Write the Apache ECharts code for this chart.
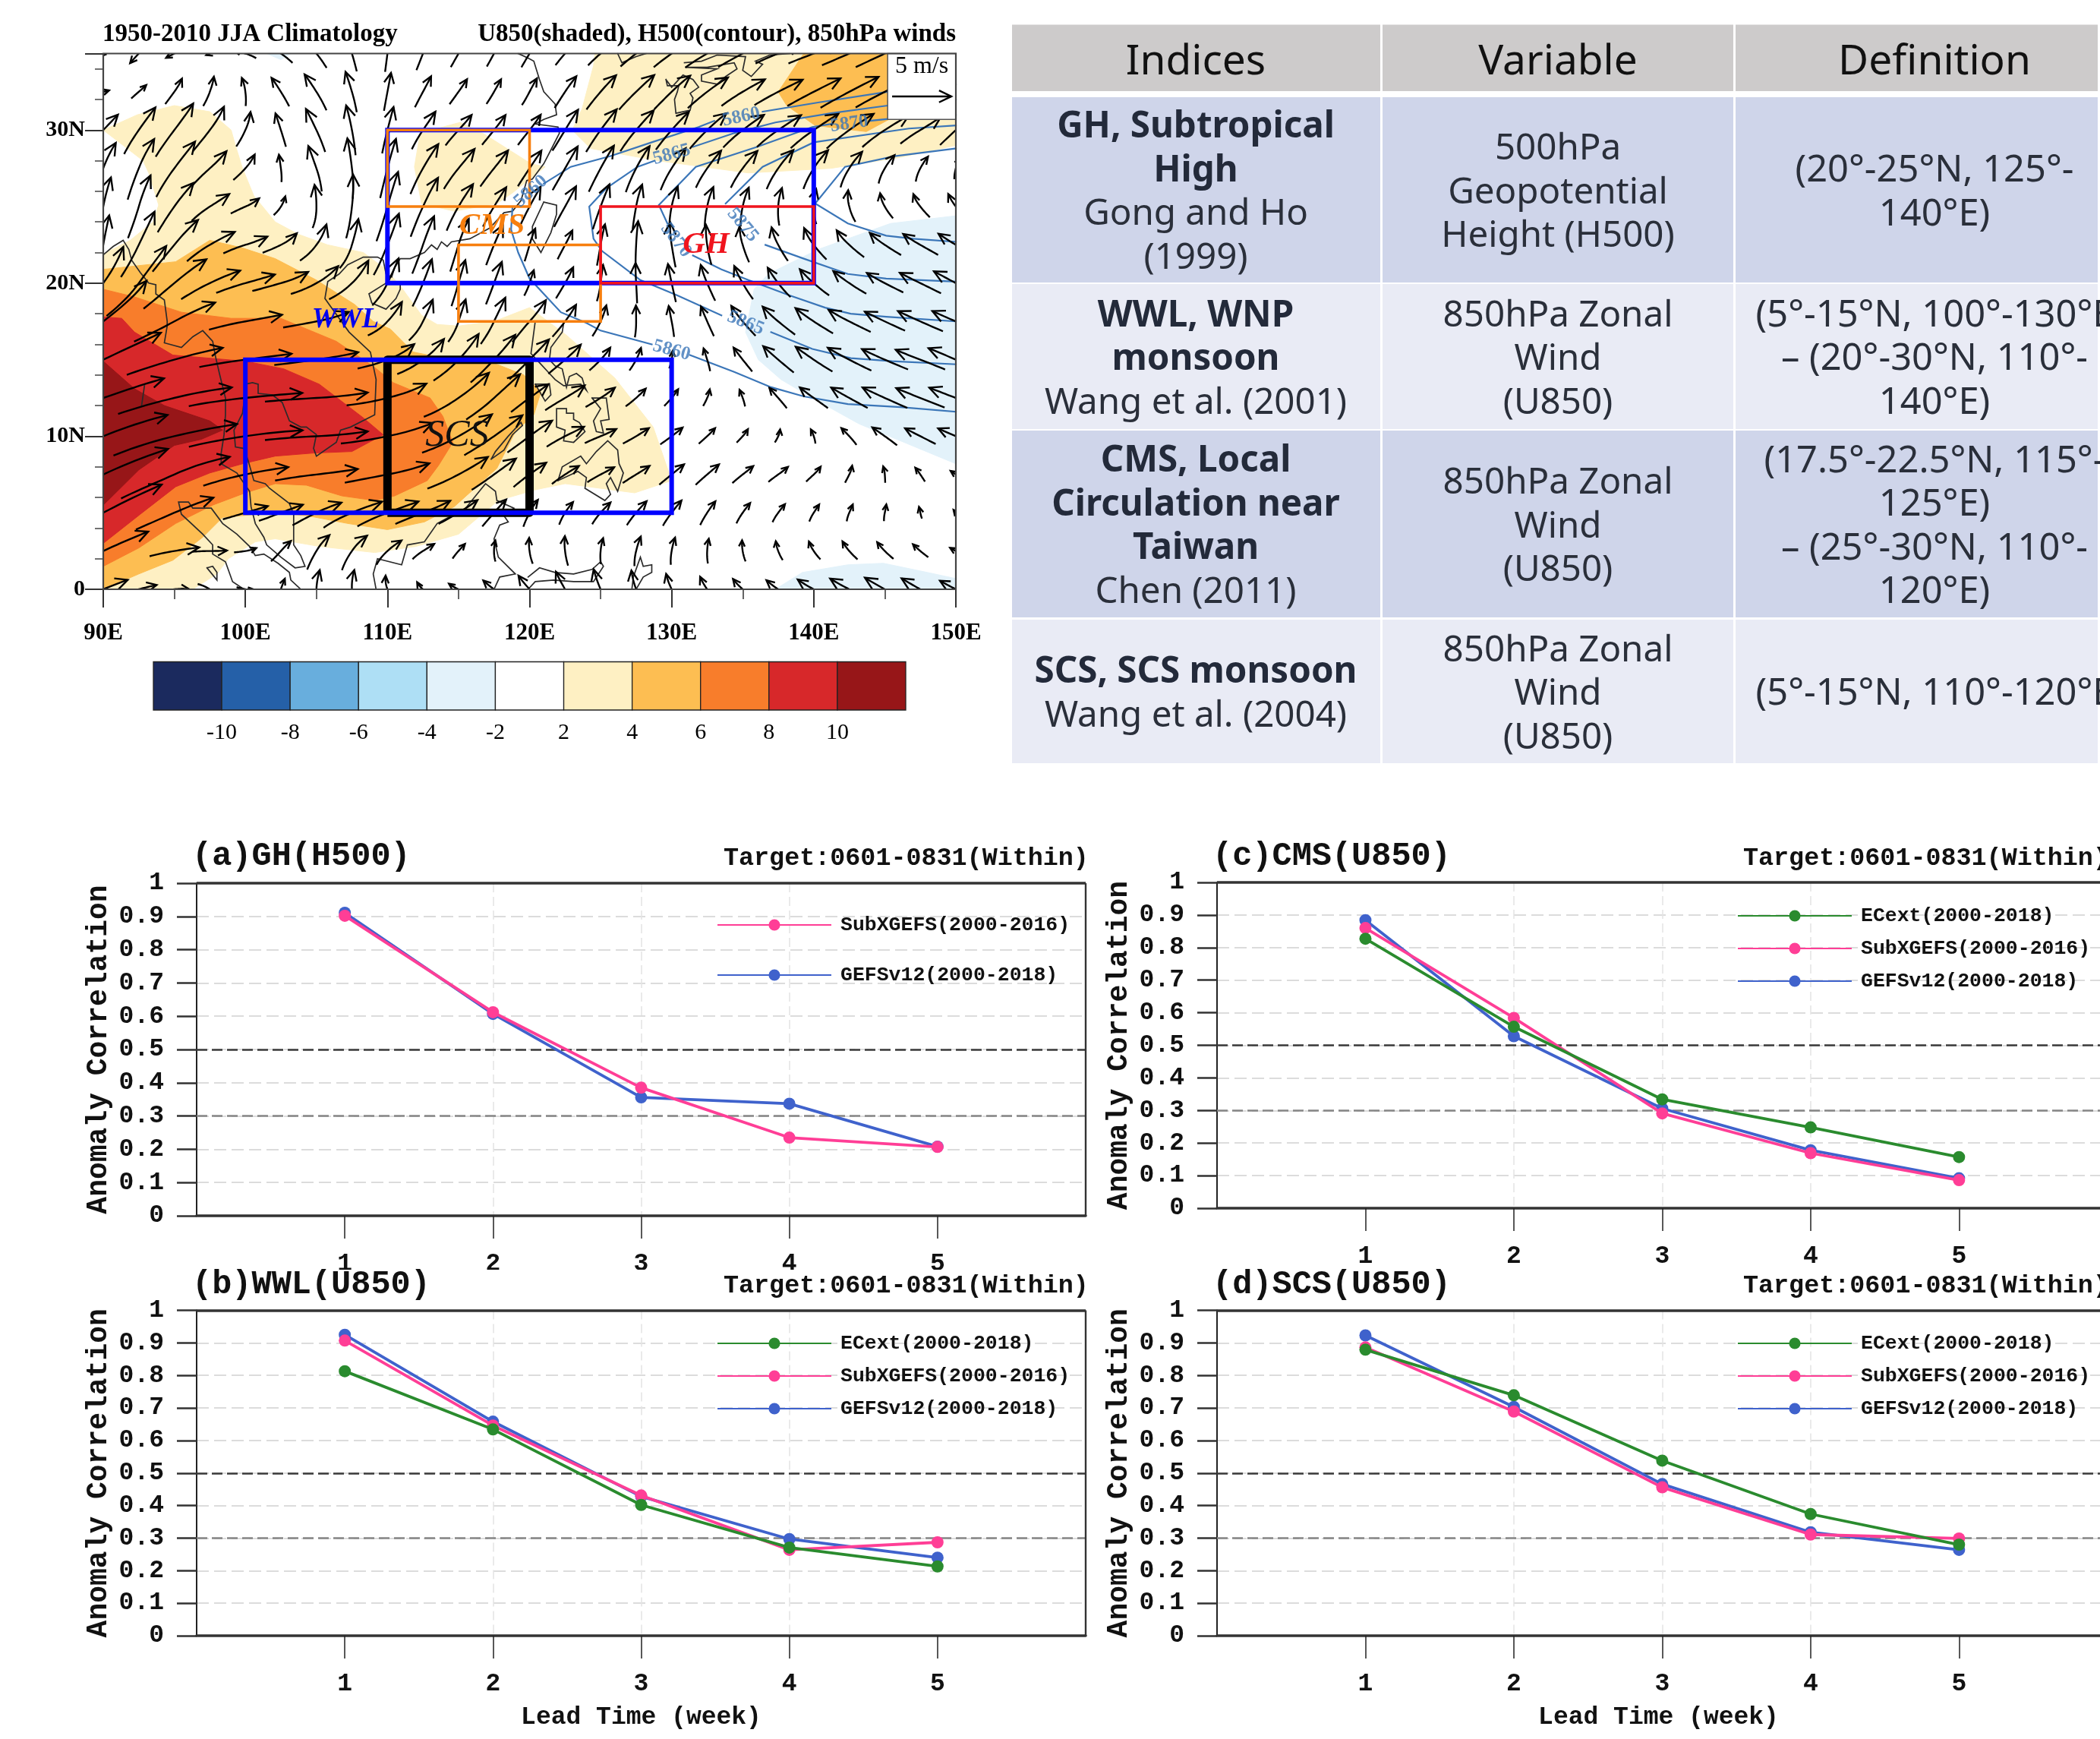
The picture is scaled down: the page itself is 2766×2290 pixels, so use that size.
<!DOCTYPE html>
<html><head><meta charset="utf-8">
<style>html,body{margin:0;padding:0;background:#fff}#c{width:2766px;height:2290px}</style>
<script src="https://cdn.jsdelivr.net/npm/echarts@6/dist/echarts.min.js"></script>
</head><body><div id="c"></div>
<script>
/* ---------- correlation panels ---------- */
const weeks=[1,2,3,4,5];
const ghGefs=[.911,.607,.356,.337,.208];
const ghSubx=[.902,.612,.385,.235,.207];
const wwlEc=[.813,.634,.402,.271,.213];
const wwlSubx=[.907,.646,.431,.264,.287];
const wwlGefs=[.925,.658,.428,.297,.24];
const cmsEc=[.827,.557,.334,.248,.157];
const cmsSubx=[.86,.584,.291,.169,.086];
const cmsGefs=[.884,.528,.306,.178,.092];
const scsEc=[.879,.739,.538,.374,.28];
const scsSubx=[.886,.689,.456,.311,.299];
const scsGefs=[.923,.703,.466,.318,.264];
const nameEc='ECext(2000-2018)',nameSubx='SubXGEFS(2000-2016)',nameGefs='GEFSv12(2000-2018)';
/* ---------- climatology map: 850 hPa wind on a 2.5 degree grid, rows lat 35 to 0, columns lon 90 to 150 ---------- */
const gridLats=[35,32.5,30,27.5,25,22.5,20,17.5,15,12.5,10,7.5,5,2.5,0];
const gridLons=[90,92.5,95,97.5,100,102.5,105,107.5,110,112.5,115,117.5,120,122.5,125,127.5,130,132.5,135,137.5,140,142.5,145,147.5,150];
const windU=[
[-.5,-1.5,-1.4,-.6,-1.9,-2.1,-1.9,-.9,.4,1.1,1.3,1.2,1.4,1.7,2.2,2.7,3.1,3.8,4.2,3.9,4.3,4.6,4.9,4.5,3.5],
[1,1.3,1.5,.9,-.3,-1.5,-1.9,-1,.6,1.4,1.5,1.2,1.2,1.8,2.5,3,3,3.4,3.7,4.1,4.5,4.9,5,4.5,3.7],
[2.5,2.7,3.3,2.8,1.3,-.9,-1.7,-.8,1,2.1,2.3,2,2,2.1,2.6,2.9,2.8,3.1,3.5,3.8,4.1,4,4,3.5,2.7],
[1.7,2.1,3.4,3,1.9,-.3,-1.3,-.6,1.3,2.4,2.7,2.4,2,2.1,2.1,2,2.2,2.2,2.3,2.3,2.1,1.9,1.4,1.1,.5],
[1,1.6,3,3.3,2.5,1,0,.6,1.7,2.3,2.3,2,1.8,1.9,1.4,.7,.7,.7,.7,.2,0,-.7,-1.2,-1.5,-1.5],
[.9,2.7,3.7,4.1,3.8,3,2.3,1.3,2.1,1.7,1.4,1.4,.8,1.3,.6,.2,-.6,-.5,-.9,-1.5,-2,-2.4,-2.7,-3,-3],
[4.1,4.6,5.2,5,5,4.8,4.1,3.4,2,1.6,1.1,1.3,.7,1.5,.4,-.2,-.7,-1.3,-1.6,-1.9,-2.5,-2.8,-3.1,-3.5,-3.7],
[7.9,7.5,6.7,6.5,6.2,5.8,5.6,4.3,2.8,1.8,1.2,1.9,3,2,1.2,0,-.5,-1.1,-2.1,-2.8,-3.2,-3.6,-3.4,-3.8,-4],
[9.7,9,8.1,8,7.8,7.4,7.1,6,4.9,4,3.8,3.8,3.3,2.8,1.8,1,.3,-.6,-1.6,-2.6,-3.1,-3.7,-3.9,-4.2,-4.6],
[10.2,10,9.6,9.8,9.6,9.2,8.7,8,6.8,6.2,5.5,4.4,3.2,3.4,2.5,1.7,1.2,.6,-.5,-1.5,-2.4,-3.1,-3.8,-4.1,-4.5],
[10.6,10.5,10.5,9.8,9.6,9.3,8.7,8.3,7.8,7,5.9,4.9,3.7,3.2,2.7,2.2,1.9,1.4,1,.5,-.4,-1.3,-2.1,-2.6,-3],
[10.7,9.5,9,8,7.2,7,7,7,7.2,6,5.1,3.7,2.8,2.3,2.3,2.3,2.1,2,1.8,1.7,1.3,.7,-.1,-.8,-.9],
[9.7,8.5,6.5,4.5,3.8,3.7,4.1,5,5.2,4.7,3.3,2,1.2,1.2,1.6,1.7,1.6,1.3,1.2,1.1,.9,.6,.3,-.2,-.4],
[7.5,5,4.2,2.9,1.9,1.6,1.8,2.1,2.2,1.9,1.1,0,-.3,-.3,.2,.6,.4,.1,-.3,-.6,-1,-1.3,-1.4,-1.3,-1],
[4.1,3,2.5,1.9,1.5,.6,.2,-.1,-.8,-1.2,-1.7,-1.9,-2,-1.7,-1.4,-1.1,-1.2,-1.4,-1.8,-2.1,-2.8,-3.3,-3.4,-3.2,-2.7]];
const windV=[
[-.5,-1.6,-.7,-.3,.6,1.4,2.3,3,3.1,2.8,2.3,2.2,2.3,1.9,1.9,2.1,2.2,2.2,2.2,1.5,1.6,2,2.3,2,2],
[.2,1.1,2.1,2.5,2.4,2.4,3,3.4,3.2,2.6,2.1,2.1,2.3,2.7,2.9,2.9,2.9,2.6,2.2,2.1,2.3,2.6,2.5,2.2,2],
[2.6,3.9,4.4,3.7,2.9,2.8,3.6,4.2,3.9,3.1,2.5,2.5,2.5,3.5,3.6,3.4,3.2,3,2.7,2.6,2.8,2.9,2.6,2.1,2.5],
[4.5,5.2,4.6,2.7,2.1,2.3,3.8,5.1,5,4.2,3.3,3,3,3.7,3.9,3.9,3.5,3.1,3.1,3.3,3.3,3,2.4,2.1,1.8],
[5,5.4,4.2,2.1,1.1,1.6,3.7,5.4,5.9,5,3.9,3.3,3.4,3.4,3.8,3.8,3.5,3.4,3.3,3.2,3,2.7,2.1,1.9,2],
[5,5.6,4.5,2.4,1.2,1.5,3.1,4.3,5.2,4.9,4.5,3.4,2.8,2.4,3.5,4,3.8,3.4,3,2.8,2.6,2.2,1.8,1.7,1.8],
[5.7,6.3,4.3,2.4,1.4,1.4,2.3,3.3,4.1,4,3.9,3.6,2.2,2.6,3.1,3.4,3.2,3,2.8,2.5,2.2,1.9,1.6,1.7,2],
[6.2,4.5,3.6,2,1.1,1,1.1,1.5,3,3.6,3.7,4,3.4,2.7,2.6,2.7,2.6,2.5,2.5,2.3,2.1,1.8,1.6,1.7,1.7],
[4.6,3.2,2.3,1.5,1,.9,1,1.2,1.9,3,4,4,3.4,2.4,1.9,1.9,1.5,1.9,2,2.2,2.1,1.9,1.7,1.6,2],
[3.5,3,2.3,1.5,1,.7,.5,1,1.7,2.7,3.8,4,2.3,2,1.6,1.5,1.4,1.4,1.4,1.7,1.7,1.7,1.7,1.6,1.7],
[4.3,3.3,2.5,1.8,1.4,.8,.4,1,1.6,2.4,3.3,3.4,2.8,1.6,1.1,1.3,1.4,1.3,1.1,1.1,1.2,1.4,1.5,1.3,1.3],
[4.9,4,4,2.5,1.5,1.1,.8,1.1,1.4,2,2.7,2.7,2,1.5,1.2,1.4,1.7,1.7,1.4,1.2,1.2,1.4,1.4,1.2,.6],
[5.1,4.3,2.8,1.5,1.1,1.4,2,2.1,2,1.8,2,2.3,2.3,1.9,1.8,2,2.1,2,1.7,1.5,1.4,1.4,1.4,1,.5],
[3.5,1.5,.7,0,.3,1.8,3,3,2,1.2,1.2,1.8,2.2,2.5,2.2,2.5,2.3,2.1,1.8,1.6,1.5,1.5,1.4,1.1,.5],
[1.7,.8,.3,-1.2,-.3,1.8,3.3,3.3,2.2,1,.8,1.4,2.2,2.9,3.3,3.1,2.5,2,1.6,1.4,1.5,1.7,1.9,1.8,1.4]];
/* grid points where the reference thins its arrows out because the neighbours are long */
const thinnedArrows={17.5:[92.5,97.5,102.5,107.5],15:[92.5,97.5,102.5,107.5],12.5:[92.5,97.5,102.5,107.5,112.5],10:[92.5,97.5,102.5,107.5,112.5],7.5:[92.5,97.5,102.5,107.5,112.5],5:[92.5,97.5],2.5:[92.5]};
const refWind=[[147.6,32.2,5,0]];
/* U850 shading outlines, lon/lat */
const creamWest=[[90,21.9],[91.9,22.8],[93.5,24],[93.9,25.1],[93.2,27.2],[92.8,28],[90,30],[92.4,31],[95,31.6],[97.5,31.2],[99,30],[99.3,29],[99.8,27.5],[100.6,25.7],[102.1,24],[103.7,23.2],[105.8,22.5],[108.3,22],[109.9,20.9],[111,19.7],[112.4,17.9],[113.5,17.3],[115,17.2],[117.5,17.5],[120,18.4],[122.6,16.6],[126,13.8],[128.7,10.6],[130,7.1],[127.4,6.3],[122.5,6.9],[120.4,6.5],[117.8,5.8],[115,3.6],[112,2.8],[109.1,2.4],[105.2,2.8],[102.1,3.3],[100.7,3.1],[98.8,2],[98,1],[96.3,0],[90,0]];
const creamNorthEast=[[124.6,35],[124.5,34.2],[123.7,31.4],[123,30],[124.3,28.8],[129,28],[135.4,27.2],[141.2,27.5],[146,28.2],[150,29],[150,35]];
const creamInland=[[111.9,27.6],[112.3,29.8],[115.1,30.5],[116.7,29.8],[120.1,27.8],[121.1,27.6],[118.8,25.9],[117.7,25.2],[114.7,24.7],[112.4,25.2]];
const goldMain=[[90,20.9],[95.1,21.4],[97.5,22.8],[99.8,22.3],[102.1,21.6],[105,20.2],[107.7,18.6],[109,17.5],[110.2,17],[111.8,15.5],[114.5,15],[117.7,14.7],[119.6,14],[120.8,12.9],[120.3,11.4],[119,10.3],[117.7,7.9],[114.7,5.4],[112.6,4.4],[110,3.9],[107.2,4.3],[104.4,4.8],[102,5],[98.4,4.7],[97,3.4],[94.9,1.9],[92.5,1],[90,0]];
const goldNorthEast=[[139.3,35],[137.5,32.5],[138.1,31.6],[140.1,30.3],[143.7,29.9],[145.3,30.7],[150,31],[150,35]];
const orangeMain=[[90,19.6],[92.2,19.1],[95.5,18.1],[99,17.7],[102.5,17.7],[106.4,16.2],[109.1,14.5],[110.4,13.5],[113,12.5],[113.9,11.3],[114.6,9.6],[113.6,8.1],[112.8,7.1],[110.5,6.1],[109.1,5.8],[106.8,6.1],[104.3,6.8],[102.1,6.9],[100,6.3],[97.7,5.5],[95.1,4.3],[92.5,2.7],[90,1.5]];
const redMain=[[90,17.8],[91.3,17.7],[92.2,16.8],[94.9,15.3],[100,14.9],[102.7,14.4],[105.2,13.4],[108.3,11.2],[109.7,10.1],[107.5,9],[104.8,8.9],[102.1,8.7],[99.8,8.2],[97.5,7.6],[95.1,6.7],[92.6,4.9],[90,3]];
const darkRedMain=[[90,14.9],[92.2,13.1],[94.3,12],[97.5,11],[98.4,10.4],[96.9,9.8],[95,9.4],[92.5,7.8],[90,5.5]];
const blueEast=[[150,24.4],[145.4,23.9],[140.3,22.2],[136.8,20.6],[135.8,19.6],[135.2,16.8],[136.1,15],[137.7,13.7],[139.9,12.5],[143.2,10.8],[146.1,9.7],[150,8.2]];
const blueEastDeep=[[150,18],[148,16.7],[145.3,15.1],[146.3,13.5],[146.8,12.5],[150,12]];
const blueSouth=[[137.3,0],[139.2,1.1],[142.4,1.6],[144.9,1.7],[148,1.1],[150,.7],[150,0]];
const blueNorth=[[101.5,35],[102.5,34.6],[103.2,35]];
/* H500 contours */
const contours=[
[[150,11.6],[146.1,11.9],[142.4,12.1],[139.3,12.6],[137,13.2],[134.4,14.2],[131.3,15.3]],
[[128.6,16],[125,16.9],[124,17.4],[122.2,18.1],[120,20.3],[119.2,22],[118.7,23.5],[118.8,25]],
[[121,26.5],[122.9,27.6],[125.7,28.3],[128.6,29.2],[131.9,30.2],[133,30.6]],
[[136.4,31.2],[140.3,31.8],[145.2,32.5],[150,33]],
[[150,14.7],[145.5,14.9],[142.6,15.1],[139.9,15.7],[137,16.8]],
[[133.5,17.9],[130.4,19.2],[127.8,20.2],[125.1,22.1],[124.5,22.9],[124.2,25],[125.4,26.2],[127.6,27.6],[128.8,28]],
[[131.5,28.9],[134.4,29.8],[137.3,30.5],[141.2,31.1],[145.2,31.6],[150,32]],
[[150,17.5],[145.1,17.8],[142.6,18],[140.8,18.4],[138.3,19.2],[135.4,20.2],[133.5,20.9],[131.5,21.8]],
[[129.7,23.9],[129.1,25.1],[131.7,27.6],[136,28.9],[139.9,30.2],[141.2,30.4]],
[[143.9,30.6],[146,30.8],[150,31]],
[[150,20.1],[145.1,20.3],[142.4,20.6],[139.3,21.6],[136.6,22.5]],
[[133.8,25.2],[136.4,27.6],[140,29.2],[146.7,30.1],[150,30.3]],
[[150,22.7],[147,22.9],[145.1,23.1],[142.4,23.9],[140.1,25.2],[142.2,27.6],[145.7,28.3],[150,28.8]]];
const contourLabels=[[134.9,30.85,'5860',12],[130,15.6,'5860',-15],[120.1,26,'5860',42],[130,28.4,'5865',15],[135.2,17.4,'5865',-22],[142.5,30.4,'5870',8],[130.3,22.8,'5870',-52],[135,23.8,'5875',-50]];
/* coastlines */
const coastMainland=[[90,21.85],[90.7,22.4],[91.4,22.8],[91.8,22.2],[92,21.5],[92.6,20.7],[93.2,20],[93.7,19.9],[93.7,19.3],[94.3,18.9],[94.5,17.5],[94.5,17.2],[94.3,16.1],[95.5,15.8],[96.3,16.5],[97,16.9],[97.7,16.2],[97.9,15.2],[98.2,14],[98.6,12.5],[98.6,11.4],[98.5,10.1],[98.3,8.9],[98.3,8.2],[99.4,7.6],[100.3,6.4],[100.4,5.4],[100.7,4.3],[101.3,3.4],[101.5,2.9],[102.5,2.1],[103.5,1.4],[104.2,1.5],[103.9,2.2],[103.4,2.9],[103.4,4.9],[103.1,5.6],[101.7,6.6],[101.4,6.9],[100.6,7.1],[100.2,8.4],[99.9,9.2],[99.3,9.3],[99.2,10.4],[99.8,11.5],[99.9,12.2],[100,13.4],[100.5,13.5],[100.9,13.4],[100.9,12.8],[101.9,12.7],[102.6,12.2],[103.1,11],[103.9,10.6],[104.3,10.6],[105,10.1],[104.8,9.2],[105,8.7],[106.4,9.6],[106.7,10.4],[107.4,10.6],[109.1,11.4],[109.2,13.7],[108.8,15.5],[107.3,16.8],[105.9,18.6],[105.6,19],[105.8,20.1],[106.6,20.6],[107.2,21.2],[108.3,21.7],[109.3,21.7],[109.7,21.5],[109.9,20.6],[110.3,20.4],[110.5,21],[110.9,21.6],[111.6,21.6],[112.6,22],[113.1,22.5],[113.5,22.2],[113.8,22.7],[114.2,22.4],[114.5,22.7],[115.8,22.9],[117.2,23.6],[118.2,24.6],[118.8,24.7],[119.4,25.4],[119.8,26.7],[120.2,26.8],[121,27.8],[121.5,28.7],[122.1,29.8],[122,30.2],[120.4,30.4],[121,30.7],[121.9,31],[121.8,31.7],[121,32.5],[120.7,33.3],[120.3,34.5],[119.9,34.7],[119.2,35]];
const coastTaiwan=[[121,25.3],[121.9,25.1],[121.9,24.5],[121.5,23.3],[120.8,22],[120.2,22.9],[120.2,23.7],[121,25.3]];
const coastHainan=[[109.9,20],[110.9,20.1],[110.9,19.6],[110.6,19],[109.9,18.3],[108.9,18.7],[108.7,19.3],[109.9,20]];
const coastLuzon=[[122.4,17.4],[122.3,16.8],[121.5,15.8],[121.4,15],[121.8,14.6],[122.3,14.4],[122.6,13.2],[122.8,13.9],[123.3,14.1],[123.7,13.8],[123.9,13.2],[124,13],[123.6,13.4],[122.4,13.3],[121.8,13.7],[121.3,14.2],[120.7,14.8],[120.1,15.4],[120.3,16.8],[120.4,17.5]];
const coastMindoro=[[120.4,13.4],[121.4,13.4],[121.5,12.7],[121.1,12.3],[120.4,13.4]];
const coastVisayas=[[121.9,11.8],[122.6,11.8],[122.6,11.5],[123.1,11.5],[123.1,11.1],[123.5,10.9],[123.9,10.3],[123.1,9.6],[122.4,9.7],[122.5,10.4],[121.9,10.6],[121.9,11.8]];
const coastSamar=[[124.4,12.5],[125.4,12.5],[125.6,11.1],[125,11],[125.2,10.2],[124.7,10.3],[124.5,11],[125,11.8],[124.4,12.5]];
const coastMindanao=[[122,7.1],[122.3,8],[123.6,8.7],[124,8.2],[124.7,9],[125.5,9.7],[126.2,9.1],[126.3,8.2],[126.6,7.6],[126.2,6.4],[125.7,7.3],[125.4,6.9],[125.7,6.2],[125.3,5.8],[123.9,6.6],[124,7.3],[123.4,7.7],[122,7.1]];
const coastPalawan=[[117.3,8.5],[118.2,9.1],[118.8,10.1],[119.5,10.7],[119.4,10.9],[118.5,10],[117.6,9],[117.3,8.5]];
const coastBorneo=[[109.2,0],[109,1],[109.3,2],[111,1.6],[111.4,2.9],[112.6,3.1],[113.5,4.3],[114.7,4.9],[115.5,5.3],[116.9,6.9],[117.6,6.4],[117.7,5.8],[118.9,5.3],[118.2,4.8],[118.5,4.4],[117.9,4.2],[117.5,3.3],[117.8,2.1],[119,1],[117.9,.8],[117.5,0]];
const coastSumatra=[[99.9,0],[99.1,.5],[98.6,1.8],[97.7,2.3],[97.7,2.9],[97,3.6],[95.5,4.9],[95.3,5.7],[96,5.7],[96.3,5.3],[97.6,5.3],[98.4,4.3],[99.4,3.6],[100.3,2.8],[100.7,2.2],[101.3,2.3],[102.3,1.7],[103.1,1.1],[103.2,.6],[103.9,0]];
const coastNias=[[97.3,1.4],[97.7,1.5],[98,1.1],[98,.6],[97.3,1.4]];
const coastAndaman=[[92.7,12],[92.9,13.3]];
const coastSulawesi=[[119.9,0],[120.4,.5],[121.7,.6],[123.1,.5],[124.5,.5],[125.2,1.5],[125,1.8],[124.4,1.3],[123.1,1],[121.8,1.1],[120.7,1.4],[119.9,.8]];
const coastHalmahera=[[127.2,0],[127.3,.8],[127.8,2.1],[128,1.5],[128.6,1.6],[128.6,1.1],[128,.8],[127.5,0]];
const coastKorea=[[126.2,35],[126.5,34.4],[127.5,34.8],[128.2,35]];
const coastKyushu=[[129.6,33.3],[130,32.8],[130.8,33.6],[131.5,33.3],[131.9,32.8],[131.3,32.4],[131.5,32.1],[131.3,31.3],[130.3,31.1],[130.2,32],[130.4,32.5],[130.5,32.9],[129.7,32.9],[129.6,33.3]];
const coastHonshu=[[130.9,34.4],[132.1,34.5],[133.2,34.9],[135.2,34.8],[135,33.9],[135.6,33.5],[136.4,34.3],[135.9,34.5],[136.9,34.9],[138.3,35]];
const coastShikoku=[[131,34.1],[132.5,34.1],[134.4,34.4],[134.6,34],[133.8,33.5],[133.2,33],[132.1,33.2],[132.1,33.6],[133.2,34],[131,34.1]];
/* analysis boxes */
const boxGreatWwl=[[100,5],[130,5],[130,15],[100,15],[100,5]];
const boxNorthWwl=[[110,20],[140,20],[140,30],[110,30],[110,20]];
const boxScs=[[110,5],[120,5],[120,15],[110,15],[110,5]];
const boxCmsNorth=[[110,25],[120,25],[120,30],[110,30],[110,25]];
const boxCmsSouth=[[115,17.5],[125,17.5],[125,22.5],[115,22.5],[115,17.5]];
const boxGh=[[125,20],[140,20],[140,25],[125,25],[125,20]];
const refBox=[[145.2,30.7],[150,30.7],[150,35],[145.2,35],[145.2,30.7]];
const mapFrame=[[90,0],[150,0],[150,35],[90,35],[90,0]];
/* colour bar */
const barColors=['#1B2A5E','#2560A8','#68AEDD','#AEDFF5','#E3F2FA','#FFFFFF','#FEF0C3','#FDBE52','#F87D2B','#D7282A','#971618'];
const barLabels=['-10','-8','-6','-4','-2','2','4','6','8','10'];
/* table */
const tableHeader=['Indices','Variable','Definition'];
const tableIndices=[
 [['GH, Subtropical',1],['High',1],['Gong and Ho',0],['(1999)',0]],
 [['WWL, WNP',1],['monsoon',1],['Wang et al. (2001)',0]],
 [['CMS, Local',1],['Circulation near',1],['Taiwan',1],['Chen (2011)',0]],
 [['SCS, SCS monsoon',1],['Wang et al. (2004)',0]]];
const tableVariable=[['500hPa','Geopotential','Height (H500)'],['850hPa Zonal','Wind','(U850)'],['850hPa Zonal','Wind','(U850)'],['850hPa Zonal','Wind','(U850)']];
const tableDefinition=[['(20°-25°N, 125°-','140°E)'],['(5°-15°N, 100°-130°E','– (20°-30°N, 110°-','140°E)'],['(17.5°-22.5°N, 115°-','125°E)','– (25°-30°N, 110°-','120°E)'],['(5°-15°N, 110°-120°E']];

const MONO='Liberation Mono',SERIF='Liberation Serif',SANS='Noto Sans';
const GREEN='#2A8B2E',PINK='#FF3E96',BLUE='#3F62CC';
const chart=echarts.init(document.getElementById('c'),null,{renderer:'canvas',width:2766,height:2290});
const graphic=[],grids=[],xAxes=[],yAxes=[],series=[],legends=[];

/* ---- map grid ---- */
grids.push({left:136,top:70.5,width:1123,height:705.5});
xAxes.push({type:'value',gridIndex:0,min:90,max:150,interval:10,
  axisLine:{show:false},splitLine:{show:false},
  axisTick:{length:24,lineStyle:{color:'#333',width:2}},
  minorTick:{show:true,splitNumber:2,length:13,lineStyle:{color:'#333',width:1.5}},
  axisLabel:{margin:42,fontFamily:SERIF,fontWeight:'bold',fontSize:31,color:'#000',formatter:v=>v+'E'}});
yAxes.push({type:'value',gridIndex:0,min:0,max:35,interval:10,
  axisLine:{show:false},splitLine:{show:false},
  axisTick:{length:24,lineStyle:{color:'#333',width:2}},
  minorTick:{show:true,splitNumber:5,length:11,lineStyle:{color:'#444',width:1.5}},
  axisLabel:{margin:24,fontFamily:SERIF,fontWeight:'bold',fontSize:30,color:'#000',formatter:v=>v===0?'0':v+'N',showMaxLabel:false}});
const onMap={coordinateSystem:'cartesian2d',xAxisIndex:0,yAxisIndex:0,silent:true,animation:false};
function fillPoly(points,color,z){
  series.push({...onMap,type:'custom',z,clip:true,data:[0],renderItem:(p,api)=>({type:'polygon',shape:{points:points.map(q=>api.coord(q))},style:{fill:color,stroke:color,lineWidth:1}})});
}
function polyline(points,color,width,z,clip){
  series.push({...onMap,type:'line',z,clip:clip!==false,data:points,showSymbol:false,symbol:'none',lineStyle:{color,width,cap:'square',join:'miter'}});
}
[[creamWest,6],[creamNorthEast,6],[creamInland,6],[goldMain,7],[goldNorthEast,7],[orangeMain,8],[redMain,9],[darkRedMain,10],[blueEast,4],[blueEastDeep,3],[blueSouth,4],[blueNorth,4]]
 .forEach(([pts,i])=>fillPoly(pts,barColors[i],2+i/20));
[coastMainland,coastTaiwan,coastHainan,coastLuzon,coastMindoro,coastVisayas,coastSamar,coastMindanao,coastPalawan,coastBorneo,coastSumatra,coastNias,coastAndaman,coastSulawesi,coastHalmahera,coastKorea,coastKyushu,coastHonshu,coastShikoku]
 .forEach(c=>polyline(c,'#2b2b2b',1.7,3));
contours.forEach(c=>polyline(c,'#3B76B8',2.2,4));
/* curly wind arrows traced through the gridded field */
function fieldAt(lon,lat){
  const cf=Math.max(0,Math.min(23.999,(lon-90)/2.5)),rf=Math.max(0,Math.min(13.999,(35-lat)/2.5));
  const c=Math.floor(cf),r=Math.floor(rf),a=cf-c,b=rf-r;
  const mix=g=>(g[r][c]*(1-a)+g[r][c+1]*a)*(1-b)+(g[r+1][c]*(1-a)+g[r+1][c+1]*a)*b;
  return [mix(windU),mix(windV)];
}
const PX_PER_MS=15.6;
function arrowSeries(rows,z,curly){
  series.push({...onMap,type:'custom',z,clip:true,data:rows,dimensions:['lon','lat','u','v'],encode:{x:0,y:1},
   renderItem:(p,api)=>{
    const lon=api.value(0),lat=api.value(1),u=api.value(2),v=api.value(3);
    const o=api.coord([lon,lat]),ox=api.coord([lon+1,lat])[0]-o[0],oy=o[1]-api.coord([lon,lat+1])[1];
    const len=Math.hypot(u,v)*PX_PER_MS,N=10,step=len/2/N;
    const trace=sgn=>{const pts=[];let x=o[0],y=o[1];
      for(let i=0;i<N;i++){let f=curly?fieldAt(lon+(x-o[0])/ox,lat-(y-o[1])/oy):[u,v];
        const s=Math.hypot(f[0],f[1])||1;x+=sgn*step*f[0]/s;y-=sgn*step*f[1]/s;pts.push([x,y]);}
      return pts;};
    const fwd=trace(1),back=trace(-1).reverse();
    const pts=[...back,o,...fwd];
    const tip=pts[pts.length-1],prev=pts[pts.length-3]||pts[0];
    const ang=Math.atan2(tip[1]-prev[1],tip[0]-prev[0]),h=Math.min(18,Math.max(9,len*.3));
    const wing=t=>[tip[0]-h*Math.cos(ang+t),tip[1]-h*Math.sin(ang+t)];
    const style={fill:null,stroke:'#000',lineWidth:2.4,lineJoin:'miter'};
    return {type:'group',children:[
      {type:'polyline',shape:{points:pts},style},
      {type:'polyline',shape:{points:[wing(.45),tip,wing(-.45)]},style}]};
   }});
}
const windRows=[];
gridLats.forEach((la,r)=>gridLons.forEach((lo,c)=>{
  if(!(thinnedArrows[la]||[]).includes(lo)) windRows.push([lo,la,windU[r][c],windV[r][c]]);
}));
arrowSeries(windRows,5,true);
polyline(boxNorthWwl,'#0000FF',6,7);
series.push({...onMap,type:'line',z:7.5,clip:false,data:boxScs,symbol:'none',lineStyle:{color:'#000',width:11,join:'round'}});
polyline(boxGreatWwl,'#0000FF',6,8,false);
polyline(boxCmsNorth,'#F77F0E',3.6,9);
polyline(boxCmsSouth,'#F77F0E',3.6,9);
polyline(boxGh,'#F0141E',3.6,9);
series.push({...onMap,type:'custom',z:10,data:[0],renderItem:(p,api)=>({type:'polygon',shape:{points:refBox.map(q=>api.coord(q))},style:{fill:'#fff',stroke:'#555',lineWidth:1.5}})});
arrowSeries(refWind,11,false);
polyline(mapFrame,'#444',2.2,12,false);
series.push({...onMap,type:'scatter',z:11,symbolSize:0,
  label:{show:true,position:'inside',formatter:d=>contourLabels[d.dataIndex][2],fontFamily:SERIF,fontWeight:'bold',fontSize:25,color:'#3B76B8'},
  data:contourLabels.map(l=>({value:[l[0],l[1]],label:{rotate:l[3]}}))});

/* ---- colour bar ---- */
grids.push({left:202,top:871.5,width:991,height:63.5});
xAxes.push({type:'value',gridIndex:1,min:0,max:11,interval:1,axisLine:{show:false},axisTick:{show:false},splitLine:{show:false},
  axisLabel:{margin:15,fontFamily:SERIF,fontSize:30,color:'#000',showMinLabel:false,showMaxLabel:false,formatter:v=>barLabels[v-1]||''}});
yAxes.push({type:'value',gridIndex:1,min:0,max:1,show:false});
series.push({type:'custom',coordinateSystem:'cartesian2d',xAxisIndex:1,yAxisIndex:1,silent:true,animation:false,data:barColors.map((c,i)=>[i]),encode:{x:0},
  renderItem:(p,api)=>{const i=api.value(0),a=api.coord([i,1]),b=api.coord([i+1,0]);
    return {type:'rect',shape:{x:a[0],y:a[1],width:b[0]-a[0],height:b[1]-a[1]},style:{fill:barColors[i],stroke:'#222',lineWidth:1.3}};}});

/* ---- correlation panels ---- */
const panels=[
 {left:259,width:1171,xMax:6,top:1163,bottom:1601,title:'(a)GH(H500)',tx:253,tt:1128,gx:953,gy:1131,legX:944,legY:1203,gap:36,xname:false,
  lines:[[nameGefs,ghGefs,BLUE],[nameSubx,ghSubx,PINK]],leg:[nameSubx,nameGefs]},
 {left:259,width:1171,xMax:6,top:1725.5,bottom:2154,title:'(b)WWL(U850)',tx:253,tt:1692,gx:953,gy:1694,legX:944,legY:1754,gap:13,xname:true,
  lines:[[nameGefs,wwlGefs,BLUE],[nameSubx,wwlSubx,PINK],[nameEc,wwlEc,GREEN]],leg:[nameEc,nameSubx,nameGefs]},
 {left:1603,width:1163,xMax:5.95,top:1162,bottom:1591,title:'(c)CMS(U850)',tx:1597,tt:1128,gx:2296,gy:1131,legX:2288,legY:1191,gap:13,xname:false,
  lines:[[nameGefs,cmsGefs,BLUE],[nameSubx,cmsSubx,PINK],[nameEc,cmsEc,GREEN]],leg:[nameEc,nameSubx,nameGefs]},
 {left:1603,width:1163,xMax:5.95,top:1725.5,bottom:2154,title:'(d)SCS(U850)',tx:1597,tt:1692,gx:2296,gy:1694,legX:2288,legY:1754,gap:13,xname:true,
  lines:[[nameGefs,scsGefs,BLUE],[nameSubx,scsSubx,PINK],[nameEc,scsEc,GREEN]],leg:[nameEc,nameSubx,nameGefs]}];
panels.forEach(P=>{
  const g=grids.length;
  grids.push({left:P.left,top:P.top,width:P.width,height:P.bottom-P.top});
  xAxes.push({type:'value',gridIndex:g,min:0,max:P.xMax,interval:1,
    name:P.xname?'Lead Time (week)':'',nameLocation:'middle',nameGap:91,
    nameTextStyle:{fontFamily:MONO,fontWeight:'bold',fontSize:33,color:'#111'},
    axisLine:{lineStyle:{color:'#333',width:3.5}},
    axisTick:{length:30,lineStyle:{color:'#222',width:1.5},customValues:weeks},
    axisLabel:{margin:47,fontFamily:MONO,fontWeight:'bold',fontSize:33,color:'#111',customValues:weeks},
    splitLine:{show:true,showMinLine:false,showMaxLine:false,lineStyle:{color:'#e4e4e4',width:1.5,type:[12,6]}}});
  yAxes.push({type:'value',gridIndex:g,min:0,max:1,interval:.1,
    name:'Anomaly Correlation',nameLocation:'middle',nameGap:110,
    nameTextStyle:{fontFamily:MONO,fontWeight:'bold',fontSize:38,color:'#111'},
    axisLine:{show:true,onZero:false,lineStyle:{color:'#222',width:2}},
    axisTick:{length:26,lineStyle:{color:'#333',width:2.5}},
    axisLabel:{margin:43,fontFamily:MONO,fontWeight:'bold',fontSize:33,color:'#111',formatter:v=>(v===0||v===1)?String(v):v.toFixed(1)},
    splitLine:{show:true,lineStyle:{color:'#dcdcdc',width:2,type:[16,7]}}});
  P.lines.forEach(([name,vals,color],i)=>{
    const s={type:'line',name,xAxisIndex:g,yAxisIndex:g,z:3+i,animation:false,silent:true,
      data:weeks.map((w,j)=>[w,vals[j]]),symbol:'circle',symbolSize:16,showSymbol:true,
      lineStyle:{color,width:3.8},itemStyle:{color}};
    if(i===0){
      const marks=[
        {yAxis:1,lineStyle:{color:'#333',width:3.5,type:'solid'}},
        {yAxis:.5,lineStyle:{color:'#3a3a3a',width:2.6,type:[14,6]}},
        {yAxis:.3,lineStyle:{color:'#858585',width:2.6,type:[14,6]}}];
      if(P.xMax===6) marks.push({xAxis:6,lineStyle:{color:'#333',width:2.4,type:'solid'}});
      s.markLine={silent:true,symbol:'none',animation:false,label:{show:false},z:2,data:marks};
    }
    series.push(s);
  });
  legends.push({show:true,data:P.leg,orient:'vertical',left:P.legX,top:P.legY,padding:0,itemWidth:150,itemHeight:19,itemGap:P.gap,selectedMode:false,
    textStyle:{fontFamily:MONO,fontWeight:'bold',fontSize:26.5,color:'#111',lineHeight:30,padding:[0,0,0,7]}});
  graphic.push({type:'text',x:P.tx,y:P.tt,z:60,style:{text:P.title,fontFamily:MONO,fontWeight:'bold',fontSize:43.6,fill:'#111',verticalAlign:'middle',align:'left'}});
  graphic.push({type:'text',x:P.gx,y:P.gy,z:60,style:{text:'Target:0601-0831(Within)',fontFamily:MONO,fontWeight:'bold',fontSize:33.4,fill:'#111',verticalAlign:'middle',align:'left'}});
});
/* lower edge of panel (a) is overlapped by panel (b)'s heading area */
graphic.push({type:'rect',shape:{x:90,y:1672,width:1360,height:28},style:{fill:'#fff'},z:50});

/* ---- map titles and labels ---- */
const txt=(text,x,y,o)=>graphic.push({type:'text',x,y,z:60,style:Object.assign({text,fontFamily:SERIF,verticalAlign:'middle',align:'center',fill:'#000'},o)});
txt('1950-2010 JJA Climatology',135,45,{align:'left',fontWeight:'bold',fontSize:33});
txt('U850(shaded), H500(contour), 850hPa winds',1259,45,{align:'right',fontWeight:'bold',fontSize:33});
txt('5 m/s',1214,88,{fontSize:32});
txt('WWL',455,421,{fontSize:37,fontWeight:'bold',fontStyle:'italic',fill:'#0000F0'});
txt('CMS',648,297,{fontSize:41,fontWeight:'bold',fontStyle:'italic',fill:'#F77F0E'});
txt('GH',930,322,{fontSize:41,fontWeight:'bold',fontStyle:'italic',fill:'#F0141E'});
txt('SCS',602,574,{fontSize:50,fontStyle:'italic',fill:'#111'});

/* ---- table ---- */
const colX=[1333,1821,2286,2766],colC=[1575,2052,2548];
const rowY=[[128,372],[374,565],[567,813],[816,1005]];
const rowFill=['#CFD5EA','#E9EBF5','#CFD5EA','#E9EBF5'];
const LH=57.5,TEXT_DY=4;
colX.slice(0,3).forEach((x,i)=>{
  graphic.push({type:'rect',shape:{x,y:32.5,width:colX[i+1]-x-3,height:87.5},style:{fill:'#CDCBCB'},z:1});
  graphic.push({type:'text',x:colC[i],y:78+TEXT_DY,z:60,style:{text:tableHeader[i],fontFamily:SANS,fontSize:55,fill:'#111',align:'center',verticalAlign:'middle'}});
  rowY.forEach((r,j)=>graphic.push({type:'rect',shape:{x,y:r[0],width:colX[i+1]-x-3,height:r[1]-r[0]},style:{fill:rowFill[j]},z:1}));
});
const cellLines=(lines,cx,r,size)=>lines.forEach((l,i)=>{
  const [t,b]=Array.isArray(l)?l:[l,0];
  const mid=(r[0]+r[1])/2+TEXT_DY;
  graphic.push({type:'text',x:cx,y:mid+(i-(lines.length-1)/2)*LH,z:60,style:{text:t,fontFamily:SANS,fontSize:size,fontWeight:b?'bold':'normal',fill:b?'#232a3a':'#2a2f3a',align:'center',verticalAlign:'middle'}});
});
tableIndices.forEach((c,j)=>cellLines(c,colC[0],rowY[j],47.5));
tableVariable.forEach((c,j)=>cellLines(c,colC[1],rowY[j],47.5));
tableDefinition.forEach((c,j)=>cellLines(c,colC[2],rowY[j],48.8));

chart.setOption({animation:false,backgroundColor:'#fff',grid:grids,xAxis:xAxes,yAxis:yAxes,series,legend:legends,graphic:{elements:graphic},tooltip:{show:false}});
</script></body></html>
